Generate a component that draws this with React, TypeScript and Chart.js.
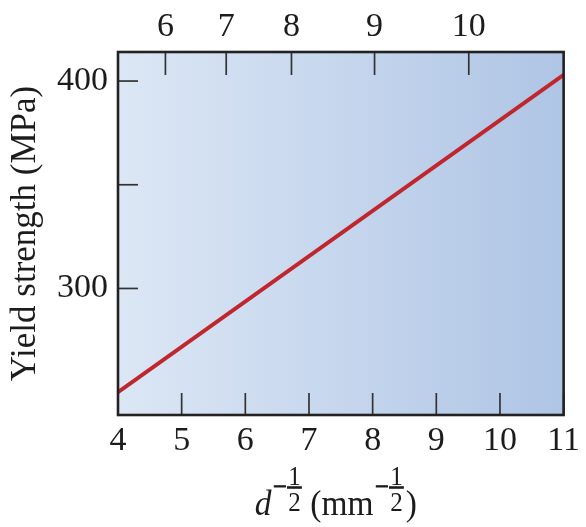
import { useEffect, useRef } from 'react'
import { Chart, registerables, type Plugin } from 'chart.js'

Chart.register(...registerables)

// line endpoints (d^-1/2 in mm^-1/2, yield strength in MPa)
const lineX = [4, 11]
const lineY = [250, 403]

const bottomTicks = [4, 5, 6, 7, 8, 9, 10, 11]
const leftTicks = [300, 350, 400]
const leftLabels = ['300', '', '400']
// top axis: labels sit at these d^-1/2 positions
const topLabels = ['6', '7', '8', '9', '10']
const topTickPos = [4.745, 5.7, 6.725, 8.03, 9.51]

const SERIF = '"Liberation Serif", "Times New Roman", serif'
const INK = '#1c1c1c'

function seg(ctx: CanvasRenderingContext2D, x1: number, y1: number, x2: number, y2: number) {
  ctx.beginPath()
  ctx.moveTo(x1, y1)
  ctx.lineTo(x2, y2)
  ctx.stroke()
}

// d^(-1/2) (mm^(-1/2)), a little condensed like the printed figure
function drawXTitle(ctx: CanvasRenderingContext2D, centerX: number, base: number) {
  const sx = 0.93
  const big = `36px ${SERIF}`
  const bigI = `italic 36px ${SERIF}`
  const minusF = `26px ${SERIF}`
  const fracF = `27px ${SERIF}`
  ctx.save()
  ctx.fillStyle = INK
  ctx.strokeStyle = INK
  ctx.textBaseline = 'alphabetic'
  ctx.textAlign = 'left'
  ctx.font = bigI
  const wd = ctx.measureText('d').width
  ctx.font = minusF
  const wm = ctx.measureText('−').width
  const wf = 16
  ctx.font = big
  const wp = ctx.measureText(' (mm').width
  const wc = ctx.measureText(')').width
  const total = wd + 2 + wm + wf + wp + 2 + wm + wf + 2 + wc
  ctx.translate(centerX - (total * sx) / 2, 0)
  ctx.scale(sx, 1)

  const minus = (x0: number) => {
    ctx.font = minusF
    ctx.lineWidth = 1
    ctx.fillText('−', x0, base - 20.5)
    ctx.strokeText('−', x0, base - 20.5)
  }
  const frac = (x0: number) => {
    ctx.font = fracF
    ctx.textAlign = 'center'
    ctx.fillText('1', x0 + wf / 2, base - 30)
    ctx.fillText('2', x0 + wf / 2, base - 4)
    ctx.textAlign = 'left'
    ctx.lineWidth = 2.6
    seg(ctx, x0, base - 27.5, x0 + wf, base - 27.5)
  }

  let x = 0
  ctx.font = bigI
  ctx.fillText('d', x, base)
  x += wd + 2
  minus(x)
  x += wm
  frac(x)
  x += wf
  ctx.font = big
  ctx.fillText(' (mm', x, base)
  x += wp + 2
  minus(x)
  x += wm
  frac(x)
  x += wf + 2
  ctx.font = big
  ctx.fillText(')', x, base)
  ctx.restore()
}

const decor: Plugin<'line'> = {
  id: 'decor',
  beforeDatasetsDraw(chart) {
    const { ctx, chartArea: a } = chart
    const g = ctx.createLinearGradient(a.left, 0, a.right, 0)
    g.addColorStop(0, '#dce7f5')
    g.addColorStop(1, '#afc5e5')
    ctx.save()
    ctx.fillStyle = g
    ctx.fillRect(a.left, a.top, a.width, a.height)

    // inward tick marks
    ctx.strokeStyle = '#333'
    ctx.lineWidth = 1.7
    const x = chart.scales.x
    const x2 = chart.scales.x2
    const y = chart.scales.y
    x.ticks.forEach((t) => {
      const px = x.getPixelForValue(t.value)
      seg(ctx, px, a.bottom, px, a.bottom - 22)
    })
    x2.ticks.forEach((t) => {
      const px = x2.getPixelForValue(t.value)
      seg(ctx, px, a.top, px, a.top + 23)
    })
    y.ticks.forEach((t) => {
      const py = y.getPixelForValue(t.value)
      seg(ctx, a.left, py, a.left + 20, py)
    })
    ctx.restore()
  },
  afterDraw(chart) {
    const { ctx, chartArea: a } = chart
    ctx.save()
    ctx.strokeStyle = '#222'
    ctx.lineWidth = 2.6
    ctx.strokeRect(a.left, a.top, a.width, a.height)
    ctx.restore()
    drawXTitle(ctx, (a.left + a.right) / 2 - 5, a.bottom + 100)
  },
}

export default function App() {
  const canvasRef = useRef<HTMLCanvasElement>(null)

  useEffect(() => {
    if (!canvasRef.current) return
    const tickFont = { family: SERIF, size: 34 }
    const chart = new Chart(canvasRef.current, {
      type: 'line',
      data: {
        datasets: [
          {
            label: 'Yield strength',
            data: lineX.map((x, i) => ({ x, y: lineY[i] })),
            borderColor: '#c0272d',
            borderWidth: 4,
            pointRadius: 0,
            fill: false,
            tension: 0,
          },
        ],
      },
      options: {
        animation: false,
        responsive: true,
        maintainAspectRatio: false,
        layout: { padding: { right: 20 } },
        plugins: { legend: { display: false }, tooltip: { enabled: false } },
        scales: {
          x: {
            type: 'linear',
            position: 'bottom',
            min: 4,
            max: 11,
            grid: { display: false, drawTicks: false },
            border: { display: false },
            afterBuildTicks: (s) => {
              s.ticks = bottomTicks.map((v) => ({ value: v }))
            },
            afterFit: (s) => {
              s.height = 112
            },
            ticks: {
              font: tickFont,
              color: INK,
              padding: 6,
              maxRotation: 0,
              autoSkip: false,
              callback: (v) => String(v),
            },
          },
          x2: {
            type: 'linear',
            position: 'top',
            min: 4,
            max: 11,
            grid: { display: false, drawTicks: false },
            border: { display: false },
            afterBuildTicks: (s) => {
              s.ticks = topTickPos.map((v) => ({ value: v }))
            },
            afterFit: (s) => {
              s.height = 52
            },
            ticks: {
              font: tickFont,
              color: INK,
              padding: 5,
              maxRotation: 0,
              autoSkip: false,
              callback: (_v, i) => topLabels[i],
            },
          },
          y: {
            type: 'linear',
            min: 239,
            max: 414,
            grid: { display: false, drawTicks: false },
            border: { display: false },
            afterBuildTicks: (s) => {
              s.ticks = leftTicks.map((v) => ({ value: v }))
            },
            afterFit: (s) => {
              s.width = 118
            },
            ticks: {
              font: tickFont,
              color: INK,
              padding: 10,
              autoSkip: false,
              callback: (_v, i) => leftLabels[i],
            },
            title: {
              display: true,
              text: 'Yield strength (MPa)',
              color: INK,
              font: { family: SERIF, size: 35 },
              padding: { top: 5, bottom: 0 },
            },
          },
        },
      },
      plugins: [decor],
    })
    return () => chart.destroy()
  }, [])

  return (
    <div style={{ position: 'absolute', left: 0, top: 0, width: 586, height: 527, background: '#fff' }}>
      <canvas ref={canvasRef} />
    </div>
  )
}
